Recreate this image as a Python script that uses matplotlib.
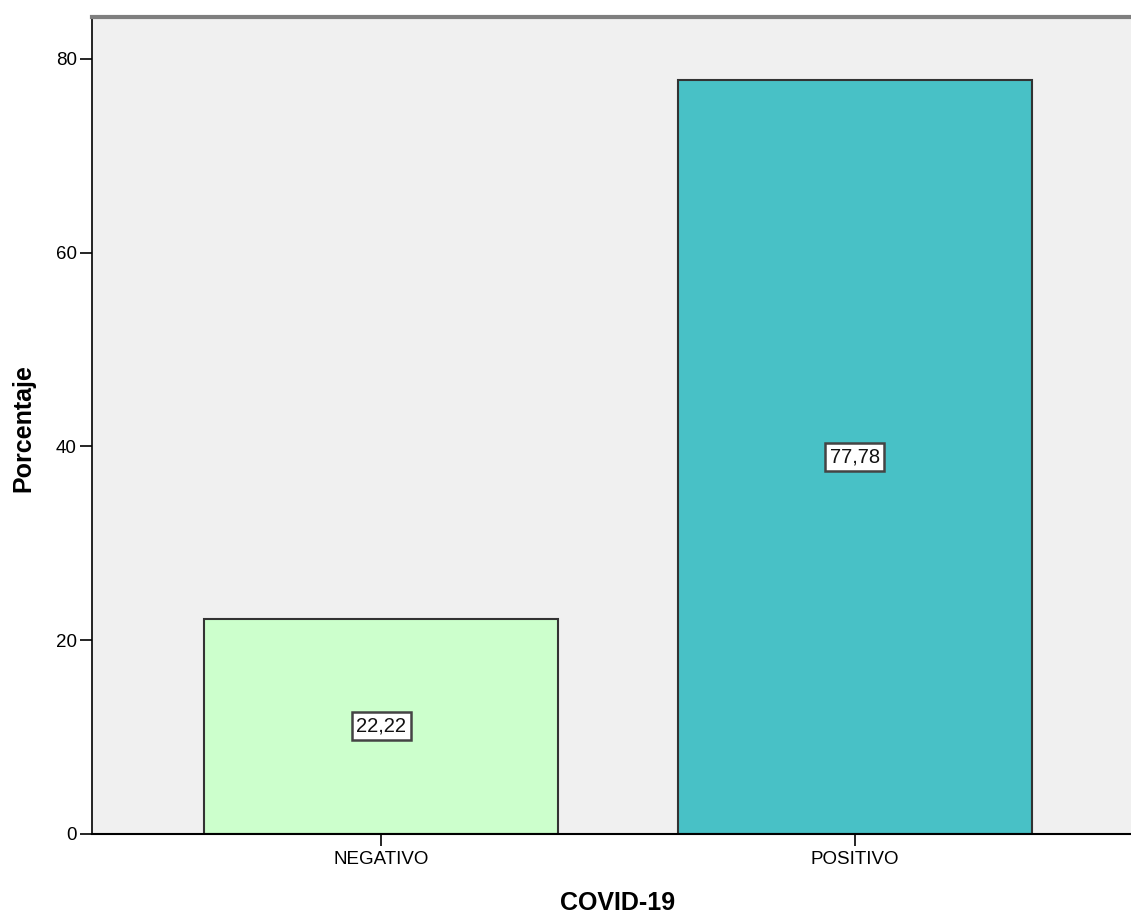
import matplotlib
matplotlib.use("Agg")
import matplotlib.pyplot as plt

categories = ["NEGATIVO", "POSITIVO"]
values = [22.22, 77.78]
labels = ["22,22", "77,78"]
yticks = [0, 20, 40, 60, 80]
colors = ["#CCFFCC", "#48C1C6"]

plt.rcParams['font.family'] = ['Liberation Sans', 'DejaVu Sans']

fig = plt.figure(figsize=(11.31, 9.15), dpi=100)
ax = fig.add_axes([92/1131, (915-834)/915, 1 - 92/1131, (834-17)/915])
ax.set_facecolor("#F0F0F0")

x = list(range(len(categories)))
ax.bar(x, values, width=0.748, color=colors, edgecolor="#333333", linewidth=1.5, zorder=2)

for xi, v, lab in zip(x, values, labels):
    ax.text(xi, v / 2, lab, ha="center", va="center", fontsize=14.5, color="#111111",
            bbox=dict(boxstyle="square,pad=0.22", facecolor="white", edgecolor="#444444", linewidth=1.8),
            zorder=3)

ax.set_xlim(-0.611, 1.583)
ax.set_ylim(0, 84.3)
ax.set_yticks(yticks)
ax.set_yticklabels([str(t) for t in yticks], fontsize=13.5)
ax.set_xticks(x)
ax.set_xticklabels(categories, fontsize=13.5)
ax.tick_params(axis="x", length=8.5, width=1.2, pad=4, direction="out")
ax.tick_params(axis="y", length=9, width=1.2, pad=2, direction="out")

ax.spines["left"].set_color("black")
ax.spines["left"].set_linewidth(1.2)
ax.spines["bottom"].set_color("black")
ax.spines["bottom"].set_linewidth(1.5)
ax.spines["top"].set_color("#7F7F7F")
ax.spines["top"].set_linewidth(3)
ax.spines["right"].set_visible(False)

fig.text(23/1131, 1 - 428/915, "Porcentaje", rotation=90, ha="center", va="center",
         fontsize=18, fontweight="bold")
fig.text(618/1131, 1 - 903/915, "COVID-19", ha="center", va="center",
         fontsize=18, fontweight="bold")

fig.savefig("out.png", dpi=100)
